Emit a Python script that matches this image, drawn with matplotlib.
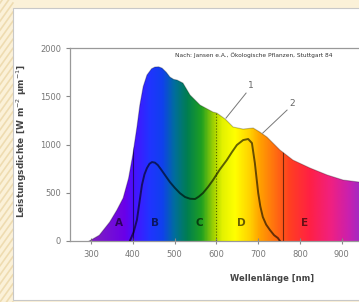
import numpy as np
import matplotlib
matplotlib.use("Agg")
import matplotlib.pyplot as plt
from matplotlib.colors import LinearSegmentedColormap
from matplotlib.patches import Polygon, Rectangle
from matplotlib.lines import Line2D

# curve 1: spectral power density of sunlight
wl_sun = [296, 320, 345, 362, 377, 390, 400, 410, 417, 425, 434, 445, 453, 462, 470,
          480, 489, 498, 506, 520, 537, 561, 592, 601, 621, 640, 664, 688, 704, 721,
          752, 783, 824, 865, 903, 941]
sun = [0, 60, 197, 320, 445, 650, 891, 1180, 1409, 1600, 1720, 1785, 1803, 1805, 1792,
       1750, 1699, 1675, 1668, 1637, 1513, 1409, 1336, 1326, 1264, 1181, 1160, 1171, 1129, 1077,
       943, 839, 756, 684, 632, 611]

# curve 2: absorption of the leaf
wl_abs = [393, 402, 410, 416, 422, 428, 434, 440, 446, 453, 460, 468, 477, 489, 501, 513,
          525, 537, 549, 558, 568, 580, 592, 608, 625, 637, 649, 664, 676, 685, 692,
          700, 705, 711, 719, 728, 738, 747, 752]
absorb = [0, 90, 218, 400, 580, 690, 756, 800, 818, 812, 787, 740, 684, 610, 549, 495,
          456, 438, 435, 460, 497, 560, 632, 740, 839, 920, 995, 1046, 1057, 1015, 808,
          497, 360, 249, 170, 114, 60, 31, 0]

regions = ["A", "B", "C", "D", "E"]
region_x = [367, 453, 558, 659, 812]
borders = [400, 600, 760]

fig = plt.figure(figsize=(3.59, 3.02), dpi=100, facecolor="#fbf1d8")

# left striped margin and white slide panel
for i in range(-2, 40):
    y0 = i * 0.03
    fig.add_artist(Line2D([0, 0.036], [y0, y0 + 0.06], transform=fig.transFigure,
                          color="#e9d3a0", lw=1.2, alpha=0.7, zorder=-3))
fig.add_artist(Rectangle((0.036, 0.007), 1.0, 0.968, transform=fig.transFigure,
                         facecolor="white", edgecolor="#c8c8c8", lw=0.8, zorder=-2))

ax = fig.add_axes([0.195, 0.202, 0.805, 0.639])
ax.set_xlim(250, 941)
ax.set_ylim(0, 2000)

# spectral gradient clipped by curve 1
stops = [(250, "#8a2cc0"), (300, "#8020c0"), (380, "#6a00e8"), (400, "#4a10ff"),
         (440, "#2034ff"), (470, "#1040ee"), (500, "#006e9c"), (530, "#007e50"),
         (565, "#20a020"), (595, "#a8d400"), (615, "#e4f200"), (645, "#ffff00"),
         (680, "#ffd200"), (705, "#ffa000"), (740, "#ff7010"), (775, "#ff4020"),
         (825, "#ff2045"), (875, "#f02080"), (920, "#c820b0"), (941, "#a828c0")]
lo, hi = stops[0][0], stops[-1][0]
cmap = LinearSegmentedColormap.from_list(
    "spec", [((w - lo) / (hi - lo), c) for w, c in stops])
grad = np.linspace(0, 1, 600).reshape(1, -1)
im = ax.imshow(grad, cmap=cmap, extent=(lo, hi, 0, 2000), aspect="auto", zorder=1)
verts = list(zip(wl_sun, sun)) + [(wl_sun[-1], 0), (wl_sun[0], 0)]
clip = Polygon(verts, closed=True, transform=ax.transData, facecolor="none", edgecolor="none")
ax.add_patch(clip)
im.set_clip_path(clip)
ax.plot(wl_sun, sun, color="black", alpha=0.25, lw=0.8, zorder=3)

# region borders
for b, ls in zip(borders, ["-", ":", "-"]):
    vl = ax.vlines(b, 0, 2000, color="black", alpha=0.55, lw=0.8, linestyles=ls, zorder=2)
    vl.set_clip_path(clip)

ax.plot(wl_abs, absorb, color="black", alpha=0.6, lw=1.4, zorder=3)

for r, x in zip(regions, region_x):
    ax.text(x, 190, r, ha="center", va="center", fontsize=7.5, fontweight="bold",
            color="black", alpha=0.6, zorder=4)

ax.plot([623, 671], [1274, 1533], color="#777777", lw=0.7)
ax.text(683, 1610, "1", fontsize=6.5, color="#666666", ha="center", va="center")
ax.plot([711, 769], [1119, 1357], color="#777777", lw=0.7)
ax.text(781, 1430, "2", fontsize=6.5, color="#666666", ha="center", va="center")

ax.text(501, 1925, "Nach: Jansen e.A., Ökologische Pflanzen, Stuttgart 84",
        fontsize=4.2, color="#333333", ha="left", va="center", clip_on=False)

ax.set_xticks([300, 400, 500, 600, 700, 800, 900])
ax.set_yticks([0, 500, 1000, 1500, 2000])
ax.tick_params(axis="both", labelsize=6, colors="#888888", labelcolor="#777777",
               width=0.8, length=3)
ax.tick_params(axis="x", direction="inout", length=5, pad=4)
ax.spines["right"].set_visible(False)
for s in ["left", "bottom", "top"]:
    ax.spines[s].set_color("#999999")
    ax.spines[s].set_linewidth(0.9)

ax.set_ylabel("Leistungsdichte [W m$^{-2}$ µm$^{-1}$]", fontsize=6.5, fontweight="bold",
              color="#444444")
ax.yaxis.set_label_coords(-0.142, 0.52)
ax.set_xlabel("Wellenlänge [nm]", fontsize=6, fontweight="bold", color="#444444")
ax.xaxis.set_label_coords(0.70, -0.17)

fig.savefig("out.png", dpi=100, facecolor=fig.get_facecolor())
